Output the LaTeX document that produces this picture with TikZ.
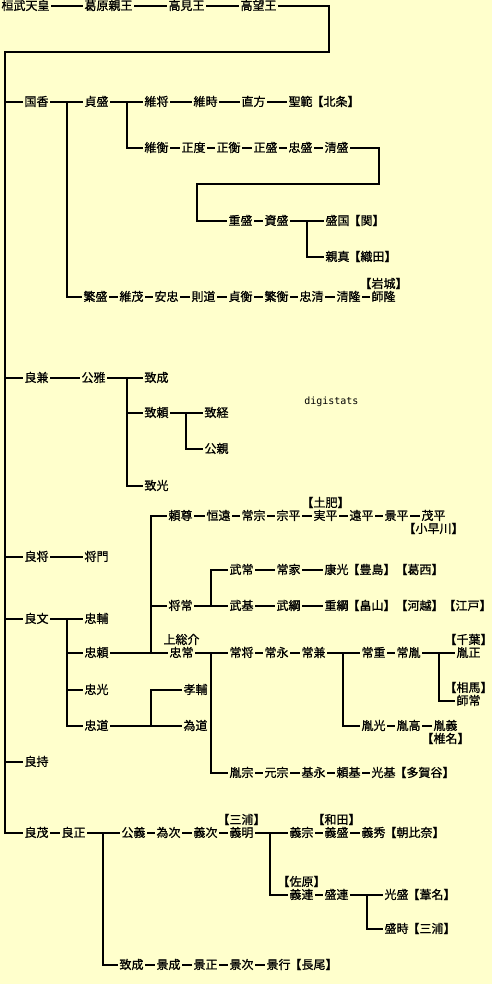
\documentclass[tikz,border=0pt]{standalone}
\usepackage{fontspec}
\newfontfamily\jp[FakeBold=1]{Noto Sans CJK JP}
\newfontfamily\wmfont{DejaVu Sans Mono}
\usetikzlibrary{positioning}
\definecolor{cpaper}{HTML}{FFFFCC}
\tikzset{
  every picture/.style={line width=2pt, x=1pt, y=-1pt},
  nm/.style={font=\jp\fontsize{12}{14}\selectfont, inner sep=0.5pt, text height=10pt, text depth=2pt, anchor=west},
  clan/.style={font=\jp\fontsize{12}{14}\selectfont, inner sep=0.5pt, text height=10pt, text depth=2pt},
}
\begin{document}
\begin{tikzpicture}
  \fill[cpaper] (0,0) rectangle (492,984);
  \useasboundingbox (0,0) rectangle (492,984);
  \foreach \n/\x/\y/\t in {kanmu/0/6/桓武天皇, kazu/83/6/葛原親王, takami/167/6/高見王, takamochi/239/6/高望王,
      kunika/23/102/国香, sadamori/83/102/貞盛, koremasa/143/102/維将, koretoki/192/102/維時, naokata/240/102/直方, seihan/287/102/聖範,
      korehira/143/148/維衡, masanori/180/148/正度, masahira/215/148/正衡, masamori/252/148/正盛, tadamori/287/148/忠盛, kiyomori/323/148/清盛,
      shigemori/227/221/重盛, sukemori/263/221/資盛, morikuni/324/221/盛国, chikazane/324/257/親真,
      shigemori2/82/297/繁盛, koreshige/118/297/維茂, yasutada/153/297/安忠, norimichi/190/297/則道, sadahira/227/297/貞衡,
      shigehira/263/297/繁衡, tadakiyo/298/297/忠清, kiyotaka/335/297/清隆, morotaka/370/297/師隆,
      yoshikane/23/378/良兼, kinmasa/80/378/公雅, munenari/143/378/致成, muneyori/143/413/致頼, munetsune/203/413/致経,
      kinchika/203/449/公親, munemitsu/143/486/致光,
      yoritaka/167/516/頼尊, tsunetoo/205/516/恒遠, tsunemune/240/516/常宗, munehira/275/516/宗平, sanehira/312/516/実平,
      toohira/348/516/遠平, kagehira/383/516/景平, mochihira/420/516/茂平,
      yoshimasa/23/557/良将, masakado/83/557/将門,
      taketsune/228/570/武常, tsuneie/275/570/常家, yasumitsu/323/570/康光,
      masatsune/167/606/将常, takemoto/228/606/武基, taketsuna/275/606/武綱, shigetsuna/323/606/重綱,
      yoshifumi/23/619/良文, tadasuke/83/619/忠輔,
      tadayori/83/653/忠頼, tadatsune/168/653/忠常, tsunemasa/228/653/常将, tsunenaga/263/653/常永, tsunekane/300/653/常兼,
      tsuneshige/360/653/常重, tsunetane/395/653/常胤, tanemasa/455/653/胤正,
      tadamitsu/83/690/忠光, takasuke/182/690/孝輔, morotsune/455/701/師常,
      tadamichi/83/726/忠道, tamemichi/182/726/為道, tanemitsu/360/726/胤光, tanetaka/395/726/胤高, taneyoshi/432/726/胤義,
      yoshimochi/23/762/良持,
      tanemune/228/773/胤宗, motomune/263/773/元宗, motonaga/300/773/基永, yorimoto/335/773/頼基, mitsumoto/370/773/光基,
      yoshishige/23/833/良茂, yoshimasa2/60/833/良正, kinyoshi/120/833/公義, tametsugu/155/833/為次, yoshitsugu/192/833/義次,
      yoshiaki/228/833/義明, yoshimune/288/833/義宗, yoshimori/323/833/義盛, yoshihide/360/833/義秀,
      yoshitsura/288/895/義連, moritsura/323/895/盛連, mitsumori/383/895/光盛, moritoki/383/929/盛時,
      munenari2/118/965/致成, kagenari/155/965/景成, kagemasa/192/965/景正, kagetsugu/228/965/景次, kageyuki/265/965/景行}
    \node[nm] (\n) at (\x,\y) {\t};
  \foreach \n/\t in {seihan/【北条】, morikuni/【関】, chikazane/【織田】, yasumitsu/【豊島】【葛西】, shigetsuna/【畠山】【河越】【江戸】,
      mitsumoto/【多賀谷】, yoshihide/【朝比奈】, mitsumori/【葦名】, moritoki/【三浦】, kageyuki/【長尾】}
    \node[clan, right=-4pt of \n] (\n-c) {\t};
  \foreach \n/\t in {morotaka/【岩城】, sanehira/【土肥】, tadatsune/上総介, tanemasa/【千葉】, morotsune/【相馬】,
      yoshiaki/【三浦】, yoshimori/【和田】, yoshitsura/【佐原】}
    \node[clan, above=-2pt of \n] (\n-c) {\t};
  \node[clan, below=-2pt of mochihira] (mochihira-c) {【小早川】};
  \node[clan, below=-2pt of taneyoshi] (taneyoshi-c) {【椎名】};
  \node[font=\wmfont\fontsize{10}{12}\selectfont, anchor=west] (wm) at (300,402) {digistats};
  \coordinate (trunk) at (5,52);
  \draw (takamochi.east) -| (329,52) -- (trunk) |- (yoshishige.west);
  \foreach \n in {kunika, yoshikane, yoshimasa, yoshifumi, yoshimochi} \draw (trunk |- \n.west) -- (\n.west);
  \foreach \a/\b in {kanmu/kazu, kazu/takami, takami/takamochi,
      kunika/sadamori, sadamori/koremasa, koremasa/koretoki, koretoki/naokata, naokata/seihan,
      korehira/masanori, masanori/masahira, masahira/masamori, masamori/tadamori, tadamori/kiyomori,
      shigemori/sukemori, sukemori/morikuni,
      shigemori2/koreshige, koreshige/yasutada, yasutada/norimichi, norimichi/sadahira, sadahira/shigehira,
      shigehira/tadakiyo, tadakiyo/kiyotaka, kiyotaka/morotaka,
      yoshikane/kinmasa, kinmasa/munenari, muneyori/munetsune,
      yoritaka/tsunetoo, tsunetoo/tsunemune, tsunemune/munehira, munehira/sanehira, sanehira/toohira, toohira/kagehira, kagehira/mochihira,
      yoshimasa/masakado, taketsune/tsuneie, tsuneie/yasumitsu,
      masatsune/takemoto, takemoto/taketsuna, taketsuna/shigetsuna, yoshifumi/tadasuke,
      tadayori/tadatsune, tadatsune/tsunemasa, tsunemasa/tsunenaga, tsunenaga/tsunekane, tsunekane/tsuneshige,
      tsuneshige/tsunetane, tsunetane/tanemasa, tadamichi/tamemichi, tanemitsu/tanetaka, tanetaka/taneyoshi,
      tanemune/motomune, motomune/motonaga, motonaga/yorimoto, yorimoto/mitsumoto,
      yoshishige/yoshimasa2, yoshimasa2/kinyoshi, kinyoshi/tametsugu, tametsugu/yoshitsugu, yoshitsugu/yoshiaki,
      yoshiaki/yoshimune, yoshimune/yoshimori, yoshimori/yoshihide, yoshitsura/moritsura, moritsura/mitsumori,
      munenari2/kagenari, kagenari/kagemasa, kagemasa/kagetsugu, kagetsugu/kageyuki}
    \draw (\a.east) -- (\b.west);
  \foreach \a/\d/\b in {kunika/17/shigemori2, sadamori/17/korehira, sukemori/17/chikazane,
      kinmasa/20/muneyori, kinmasa/20/munemitsu, muneyori/16/kinchika,
      tadayori/41/yoritaka, tadayori/41/masatsune, masatsune/17/taketsune, tadatsune/16/tanemune,
      tsunekane/16/tanemitsu, tsunetane/17/morotsune,
      yoshifumi/17/tadayori, yoshifumi/17/tadamitsu, yoshifumi/17/tadamichi, tadamichi/41/takasuke,
      yoshimasa2/16/munenari2, yoshiaki/15/yoshitsura, moritsura/17/moritoki}
    \draw (\a.east) -- ++(\d,0) |- (\b.west);
  \draw (kiyomori.east) -- ++(29,0) -- ++(0,36) -| ([xshift=-30pt]shigemori.west) -- (shigemori.west);
\end{tikzpicture}
\end{document}
